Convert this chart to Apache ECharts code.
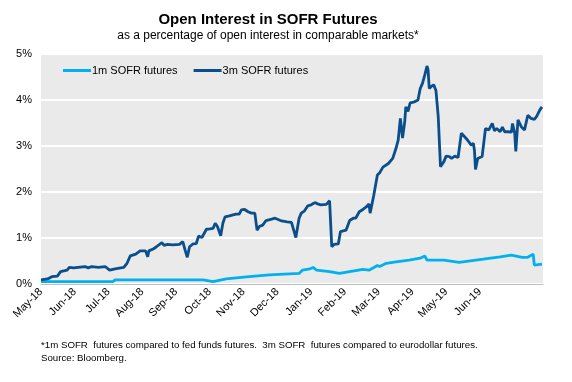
<!DOCTYPE html>
<html>
<head>
<meta charset="utf-8">
<script src="https://cdn.jsdelivr.net/npm/echarts@6/dist/echarts.min.js"></script>
<style>html,body{margin:0;padding:0;background:#fff}#c{width:572px;height:382px}</style>
</head>
<body>
<div id="c"></div>
<script>
const monthLabels = ['May-18','Jun-18','Jul-18','Aug-18','Sep-18','Oct-18','Nov-18','Dec-18','Jan-19','Feb-19','Mar-19','Apr-19','May-19','Jun-19'];
const seriesNames = ['1m SOFR futures', '3m SOFR futures'];

const dates3m = ['2018-05-01','2018-05-07','2018-05-11','2018-05-16','2018-05-19','2018-05-25','2018-05-27','2018-05-31','2018-06-10','2018-06-13','2018-06-16','2018-06-22','2018-06-28','2018-07-02','2018-07-07','2018-07-15','2018-07-18','2018-07-21','2018-07-26','2018-07-30','2018-08-04','2018-08-06','2018-08-07','2018-08-11','2018-08-14','2018-08-19','2018-08-21','2018-08-24','2018-08-29','2018-09-04','2018-09-07','2018-09-09','2018-09-11','2018-09-13','2018-09-16','2018-09-19','2018-09-21','2018-09-24','2018-09-25','2018-09-28','2018-10-01','2018-10-04','2018-10-06','2018-10-08','2018-10-11','2018-10-13','2018-10-15','2018-10-19','2018-10-25','2018-10-28','2018-10-30','2018-11-02','2018-11-05','2018-11-08','2018-11-11','2018-11-13','2018-11-15','2018-11-18','2018-11-21','2018-11-26','2018-11-29','2018-11-30','2018-12-05','2018-12-10','2018-12-14','2018-12-15','2018-12-18','2018-12-21','2018-12-23','2018-12-26','2018-12-27','2018-12-29','2019-01-01','2019-01-03','2019-01-05','2019-01-07','2019-01-10','2019-01-15','2019-01-18','2019-01-20','2019-01-22','2019-01-26','2019-01-28','2019-02-02','2019-02-05','2019-02-08','2019-02-10','2019-02-13','2019-02-16','2019-02-19','2019-02-21','2019-02-22','2019-02-25','2019-02-28','2019-03-02','2019-03-05','2019-03-10','2019-03-14','2019-03-17','2019-03-19','2019-03-21','2019-03-23','2019-03-25','2019-03-26','2019-03-28','2019-03-29','2019-03-30','2019-04-03','2019-04-06','2019-04-08','2019-04-10','2019-04-12','2019-04-14','2019-04-15','2019-04-16','2019-04-18','2019-04-20','2019-04-22','2019-04-24','2019-04-26','2019-04-29','2019-05-01','2019-05-04','2019-05-06','2019-05-09','2019-05-12','2019-05-15','2019-05-18','2019-05-21','2019-05-24','2019-05-26','2019-05-27','2019-05-28','2019-05-30','2019-06-03','2019-06-06','2019-06-09','2019-06-12','2019-06-14','2019-06-16','2019-06-19','2019-06-21','2019-06-23','2019-06-26','2019-06-29','2019-06-30','2019-07-02','2019-07-03','2019-07-05','2019-07-08','2019-07-11','2019-07-14','2019-07-17','2019-07-20','2019-07-22','2019-07-25','2019-07-27'];
const values3m = [0.09,0.11,0.16,0.17,0.27,0.30,0.36,0.35,0.38,0.35,0.38,0.36,0.38,0.30,0.33,0.36,0.45,0.61,0.65,0.72,0.72,0.59,0.72,0.76,0.81,0.90,0.84,0.86,0.85,0.86,0.92,0.74,0.58,0.81,0.87,0.88,1.04,1.01,0.98,1.19,1.20,1.21,1.32,1.25,1.05,1.32,1.46,1.48,1.52,1.52,1.61,1.62,1.57,1.54,1.54,1.17,1.25,1.28,1.38,1.41,1.43,1.39,1.37,1.35,1.34,1.26,1.01,1.43,1.54,1.59,1.61,1.70,1.72,1.75,1.77,1.74,1.72,1.73,1.81,0.81,0.86,0.87,1.14,1.17,1.38,1.43,1.43,1.57,1.62,1.68,1.74,1.54,1.93,2.37,2.42,2.54,2.62,2.73,2.95,3.13,3.60,3.17,3.53,3.85,3.75,3.85,3.94,3.96,4.00,4.25,4.36,4.54,4.74,4.65,4.25,4.30,4.33,4.20,3.64,2.55,2.66,2.78,2.77,2.73,2.78,2.75,3.28,3.20,3.12,3.02,3.06,2.91,2.49,2.73,2.77,3.38,3.35,3.49,3.33,3.38,3.31,3.41,3.31,3.31,3.30,3.49,3.28,2.88,3.57,3.42,3.35,3.67,3.60,3.58,3.64,3.78,3.85];

const dates1m = ['2018-05-01','2018-07-05','2018-07-07','2018-09-25','2018-09-26','2018-10-04','2018-10-16','2018-11-06','2018-11-24','2018-12-12','2018-12-21','2018-12-24','2018-12-31','2019-01-03','2019-01-06','2019-01-18','2019-01-27','2019-02-05','2019-02-16','2019-02-21','2019-02-28','2019-03-02','2019-03-08','2019-03-17','2019-03-29','2019-04-08','2019-04-12','2019-04-14','2019-04-29','2019-05-13','2019-06-04','2019-06-19','2019-06-29','2019-07-09','2019-07-14','2019-07-19','2019-07-20','2019-07-27'];
const values1m = [0.05,0.05,0.09,0.09,0.05,0.05,0.11,0.16,0.20,0.22,0.23,0.30,0.33,0.36,0.30,0.27,0.23,0.27,0.32,0.30,0.40,0.38,0.45,0.48,0.52,0.56,0.61,0.52,0.52,0.47,0.54,0.59,0.63,0.58,0.58,0.65,0.41,0.43];

const yTicks = ['0%','1%','2%','3%','4%','5%'];

// months elapsed since 1 May 2018 (fractional)
function monthPos(s) {
  const [y, m, d] = s.split('-').map(Number);
  const dim = new Date(y, m, 0).getDate();
  return (y - 2018) * 12 + (m - 5) + (d - 1) / dim;
}
const pts = (ds, vs) => ds.map((d, i) => [monthPos(d), vs[i]]);

const chart = echarts.init(document.getElementById('c'), null, {renderer: 'canvas'});
const font = 'Liberation Sans, Arial, sans-serif';
chart.setOption({
  animation: false,
  textStyle: {fontFamily: font},
  title: [
    {text: 'Open Interest in SOFR Futures', left: 263, top: 7, textAlign: 'center',
     textStyle: {fontSize: 15, fontWeight: 'bold', color: '#000', fontFamily: font}},
    {text: 'as a percentage of open interest in comparable markets*', left: 263, top: 25, textAlign: 'center',
     textStyle: {fontSize: 12, fontWeight: 'normal', color: '#000', fontFamily: font}}
  ],
  legend: {
    left: 58, top: 60, itemWidth: 28, itemHeight: 3, itemGap: 16, icon: 'rect',
    textStyle: {fontSize: 11, color: '#000', fontFamily: font, padding: [0,0,0,-4]},
    data: seriesNames
  },
  grid: {left: 41, right: 29, top: 54, bottom: 98, show: true, backgroundColor: '#EAEAEA', borderWidth: 0},
  xAxis: {
    type: 'value', min: 0, max: 14.87, interval: 1,
    axisLine: {show: true, lineStyle: {color: '#BFBFBF', width: 1}},
    axisTick: {show: false},
    splitLine: {show: false},
    axisLabel: {
      rotate: 45, fontSize: 11, color: '#000', margin: 6, fontFamily: font,
      showMaxLabel: false,
      formatter: v => monthLabels[Math.round(v)] || ''
    }
  },
  yAxis: {
    type: 'value', min: 0, max: 5, interval: 1,
    axisLine: {show: false}, axisTick: {show: false},
    splitLine: {show: true, lineStyle: {color: '#FFFFFF', width: 2}},
    axisLabel: {fontSize: 11, color: '#000', margin: 9, fontFamily: font,
      formatter: v => yTicks[Math.round(v)]}
  },
  series: [
    {name: seriesNames[0], type: 'line', data: pts(dates1m, values1m), symbol: 'none',
     lineStyle: {color: '#00B0F0', width: 2.8}, itemStyle: {color: '#00B0F0'}},
    {name: seriesNames[1], type: 'line', data: pts(dates3m, values3m), symbol: 'none',
     lineStyle: {color: '#0A4E8C', width: 2.8}, itemStyle: {color: '#0A4E8C'}}
  ],
  graphic: [
    {type: 'text', left: 41, top: 340, style: {text: '*1m SOFR  futures compared to fed funds futures.  3m SOFR  futures compared to eurodollar futures.', font: '9.7px ' + font, fill: '#000'}},
    {type: 'text', left: 41, top: 353, style: {text: 'Source: Bloomberg.', font: '9.7px ' + font, fill: '#000'}}
  ]
});
</script>
</body>
</html>
